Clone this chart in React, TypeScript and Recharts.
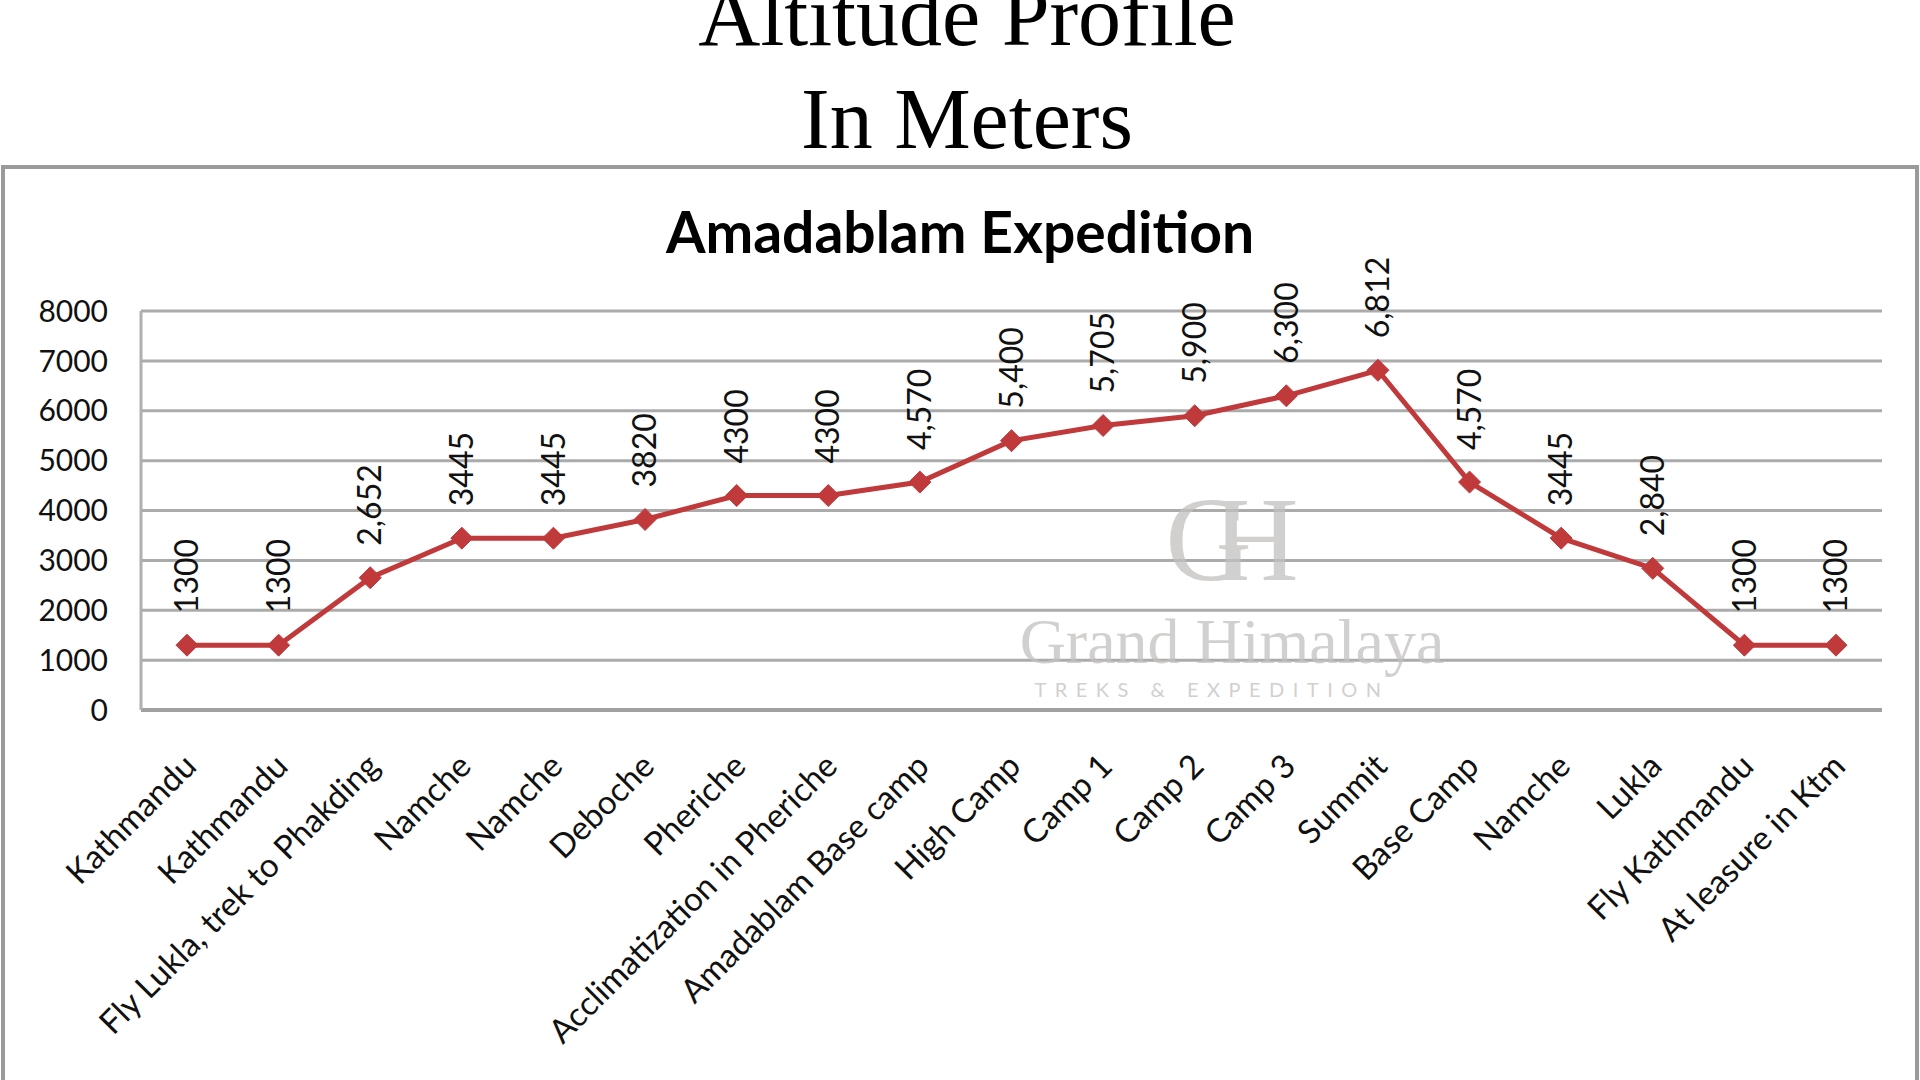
import React from "react";
import { LineChart, Line, XAxis, YAxis, CartesianGrid, LabelList } from "recharts";

const places = [
  "Kathmandu",
  "Kathmandu",
  "Fly Lukla, trek to Phakding",
  "Namche",
  "Namche",
  "Deboche",
  "Pheriche",
  "Acclimatization in Pheriche",
  "Amadablam Base camp",
  "High Camp",
  "Camp 1",
  "Camp 2",
  "Camp 3",
  "Summit",
  "Base Camp",
  "Namche",
  "Lukla",
  "Fly Kathmandu",
  "At leasure in Ktm",
];

const altitudes = [
  1300, 1300, 2652, 3445, 3445, 3820, 4300, 4300, 4570, 5400, 5705, 5900, 6300,
  6812, 4570, 3445, 2840, 1300, 1300,
];

// labels as printed on the chart (some with thousands separator, some not)
const altitudeLabels = [
  "1300", "1300", "2,652", "3445", "3445", "3820", "4300", "4300", "4,570",
  "5,400", "5,705", "5,900", "6,300", "6,812", "4,570", "3445", "2,840",
  "1300", "1300",
];

const yTicks = [0, 1000, 2000, 3000, 4000, 5000, 6000, 7000, 8000];

const data = places.map((place, i) => ({ place, altitude: altitudes[i] }));

const RED = "#c0393b";
const FONT = "Lato, 'Open Sans', sans-serif";
const SERIF = "'Liberation Serif', 'DejaVu Serif', serif";

function PlaceTick(props: any) {
  const { x, y, payload } = props;
  return (
    <g transform={`translate(${x + 3},${y + 50})`}>
      <text
        transform="rotate(-45)"
        textAnchor="end"
        dy="0.35em"
        fontFamily={FONT}
        fontSize={33}
        fill="#111"
      >
        {payload.value}
      </text>
    </g>
  );
}

function Diamond(props: any) {
  const { cx, cy, index } = props;
  const r = 11;
  return (
    <path
      key={`d-${index}`}
      d={`M${cx},${cy - r} L${cx + r},${cy} L${cx},${cy + r} L${cx - r},${cy} Z`}
      fill={RED}
      stroke={RED}
      strokeWidth={1}
    />
  );
}

function ValueLabel(props: any) {
  const { x, y, index } = props;
  const ly = y - 32;
  return (
    <text
      x={x}
      y={ly}
      transform={`rotate(-90, ${x}, ${ly})`}
      textAnchor="start"
      dy="0.35em"
      fontFamily={FONT}
      fontSize={32}
      fill="#111"
    >
      {altitudeLabels[index]}
    </text>
  );
}

export default function App() {
  return (
    <div
      style={{
        position: "absolute",
        left: 0,
        top: 0,
        width: 1920,
        height: 1080,
        background: "#fff",
        overflow: "hidden",
      }}
    >
      <svg
        width={1920}
        height={1080}
        style={{ position: "absolute", left: 0, top: 0 }}
      >
        <text x={967} y={45} textAnchor="middle" fontFamily={SERIF} fontSize={86} fill="#000">
          Altitude Profile
        </text>
        <text x={967} y={148} textAnchor="middle" fontFamily={SERIF} fontSize={86} fill="#000">
          In Meters
        </text>
        <rect
          x={3}
          y={167}
          width={1914}
          height={960}
          fill="none"
          stroke="#9a9a9a"
          strokeWidth={4}
        />
        <text
          x={960}
          y={253}
          textAnchor="middle"
          fontFamily={FONT}
          fontWeight={700}
          fontSize={57}
          fill="#000"
        >
          Amadablam Expedition
        </text>
      </svg>

      <div style={{ position: "absolute", left: 0, top: 0 }}>
        <LineChart
          width={1920}
          height={1080}
          data={data}
          margin={{ top: 311, right: 38, left: 0, bottom: 0 }}
        >
          <CartesianGrid vertical={false} stroke="#ababab" strokeWidth={3} />
          <XAxis
            dataKey="place"
            interval={0}
            height={370}
            padding={{ left: 46, right: 46 }}
            tickLine={false}
            tickSize={0}
            tickMargin={0}
            axisLine={{ stroke: "#a0a0a0", strokeWidth: 4 }}
            tick={<PlaceTick />}
          />
          <YAxis
            width={141}
            domain={[0, 8000]}
            ticks={yTicks}
            tickLine={false}
            tickSize={0}
            tickMargin={33}
            axisLine={{ stroke: "#b0b0b0", strokeWidth: 3 }}
            tick={{ fontFamily: FONT, fontSize: 30, fill: "#111" }}
          />
          <Line
            type="linear"
            dataKey="altitude"
            stroke={RED}
            strokeWidth={5}
            dot={<Diamond />}
            activeDot={false}
            isAnimationActive={false}
          >
            <LabelList dataKey="altitude" content={<ValueLabel />} />
          </Line>
        </LineChart>
      </div>

      {/* faint watermark */}
      <svg
        width={1920}
        height={1080}
        style={{ position: "absolute", left: 0, top: 0, pointerEvents: "none" }}
      >
        <g opacity={0.75} fill="#c4c0c0">
          <text
            x={1212}
            y={580}
            textAnchor="middle"
            fontFamily={SERIF}
            fontSize={120}
            letterSpacing={-40}
          >
            GH
          </text>
          <text x={1232} y={663} textAnchor="middle" fontFamily={SERIF} fontSize={64}>
            Grand Himalaya
          </text>
          <text
            x={1212}
            y={697}
            textAnchor="middle"
            fontFamily={FONT}
            fontSize={20}
            letterSpacing={8.5}
          >
            TREKS &amp; EXPEDITION
          </text>
        </g>
      </svg>
    </div>
  );
}
